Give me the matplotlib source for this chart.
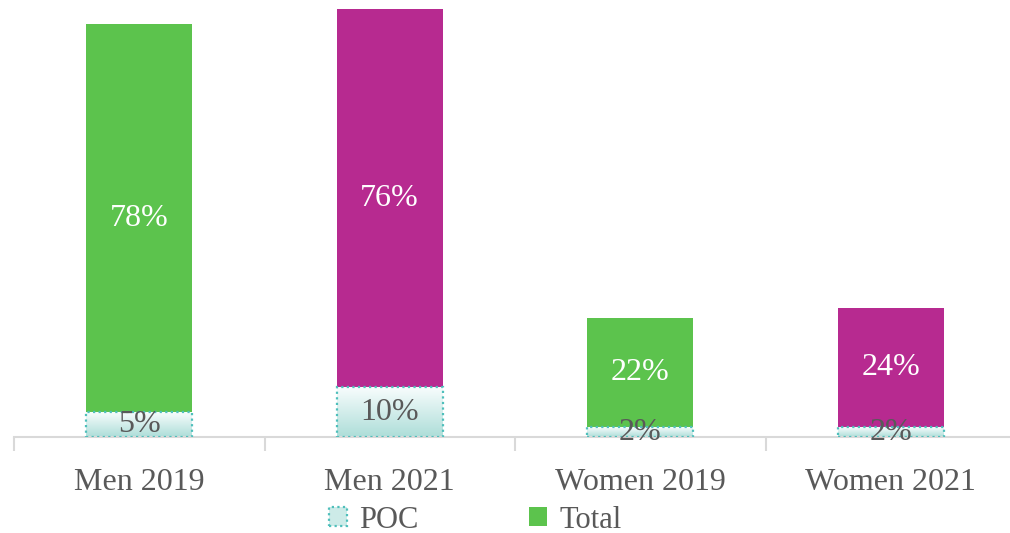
import matplotlib.pyplot as plt
import numpy as np
from matplotlib.patches import Patch

categories = ['Men 2019', 'Men 2021', 'Women 2019', 'Women 2021']
poc = [5, 10, 2, 2]
total = [78, 76, 22, 24]
total_colors = ['#5CC34D', '#B72A90', '#5CC34D', '#B72A90']

plt.rcParams['font.family'] = ['Liberation Serif', 'DejaVu Serif']

fig = plt.figure(figsize=(10.1, 5.33), dpi=100)
ax = fig.add_axes([14 / 1010, 96 / 533, 1002 / 1010, 437 / 533])

x = np.arange(len(categories))
width = 0.423

# gradient for the POC segments: white at top, pale teal at bottom
grad = np.linspace(1, 0, 64).reshape(-1, 1)
top_c = np.array([0.97, 0.99, 0.99])
bot_c = np.array([0.68, 0.87, 0.85])
img = grad[..., None] * bot_c + (1 - grad[..., None]) * top_c
img = img[::-1]

for i in range(len(categories)):
    # POC segment
    bar = ax.bar(x[i], poc[i], width, color='none', edgecolor='#4FBFBB',
                 linestyle=(0, (1, 1.5)), linewidth=1.6, zorder=3)[0]
    im = ax.imshow(img, extent=[x[i] - width / 2, x[i] + width / 2, 0, poc[i]],
                   aspect='auto', zorder=2, origin='upper')
    im.set_clip_path(bar)
    # total segment stacked on top
    ax.bar(x[i], total[i], width, bottom=poc[i], color=total_colors[i], zorder=2)
    ax.text(x[i], poc[i] + total[i] / 2, f'{total[i]}%', ha='center', va='center',
            color='white', fontsize=23, zorder=4)
    ax.text(x[i], poc[i] / 2, f'{poc[i]}%', ha='center', va='center',
            color='#595959', fontsize=23, zorder=4)

ax.set_xlim(-0.5, len(categories) - 0.5)
ax.set_ylim(0, 87.8)

for s in ['top', 'right', 'left']:
    ax.spines[s].set_visible(False)
ax.spines['bottom'].set_color('#D9D9D9')
ax.spines['bottom'].set_linewidth(1.5)
ax.set_yticks([])
ax.set_xticks(x)
ax.set_xticklabels(categories, fontsize=23, color='#595959')
ax.tick_params(axis='x', which='major', length=0, pad=22)
ax.set_xticks(np.arange(-0.5, len(categories)), minor=True)
ax.tick_params(axis='x', which='minor', length=10, width=1.5, color='#D9D9D9')

handles = [
    Patch(facecolor='#CDEBE8', edgecolor='#4FBFBB', linestyle=(0, (1, 1.5)), linewidth=1.6, label='POC'),
    Patch(facecolor='#5CC34D', label='Total'),
]
fig.legend(handles=handles, loc='center', bbox_to_anchor=(475 / 1010, 1 - 520 / 533),
           ncol=2, frameon=False, fontsize=22, labelcolor='#595959',
           handlelength=0.6, handleheight=0.6, handletextpad=0.4, columnspacing=3.6,
           borderpad=0)

fig.savefig('out.png', dpi=100)
